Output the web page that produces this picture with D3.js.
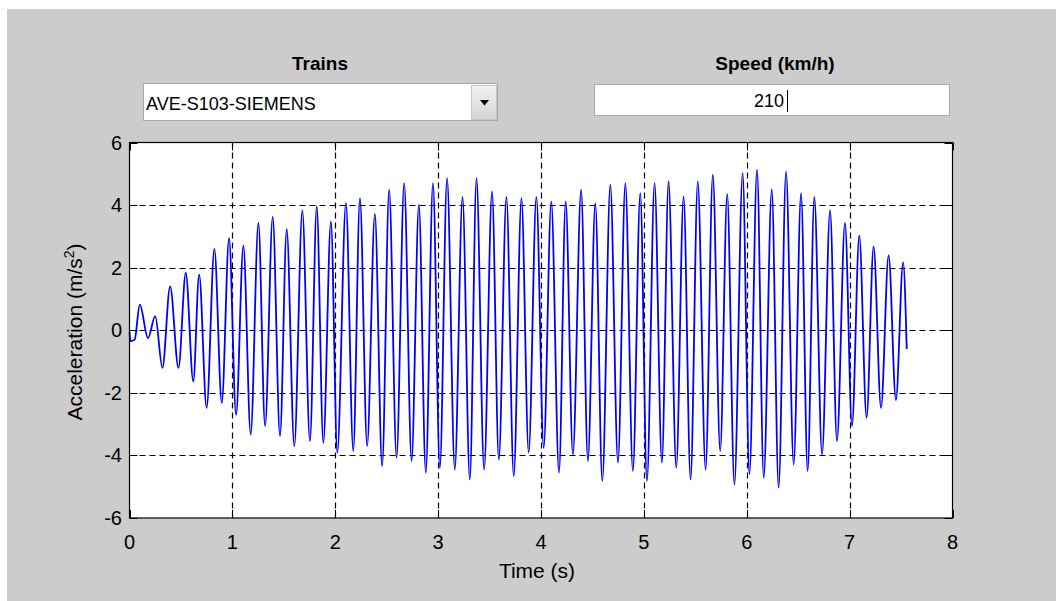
<!DOCTYPE html>
<html>
<head>
<meta charset="utf-8">
<script src="https://cdn.jsdelivr.net/npm/d3@7"></script>
<style>
  html, body { margin: 0; padding: 0; background: #ffffff; }
  svg { display: block; }
  text { font-family: "Liberation Sans", Arial, sans-serif; }
</style>
</head>
<body>
<svg id="chart" width="1056" height="601"></svg>
<script>
// ---- data (local extrema of the acceleration trace) ----
const timeS = [0, 0.01, 0.05, 0.10, 0.18, 0.25, 0.32, 0.395, 0.476, 0.547, 0.62, 0.677, 0.75, 0.825, 0.897, 0.968,
  1.036, 1.107, 1.178, 1.253, 1.318, 1.392, 1.463, 1.528, 1.602, 1.68, 1.754, 1.82, 1.884, 1.958,
  2.02, 2.104, 2.175, 2.24, 2.31, 2.385, 2.456, 2.524, 2.596, 2.67, 2.742, 2.813, 2.88, 2.95,
  3.017, 3.087, 3.162, 3.237, 3.308, 3.373, 3.447, 3.524, 3.59, 3.664, 3.735, 3.81, 3.88, 3.955,
  4.026, 4.1, 4.175, 4.24, 4.31, 4.39, 4.456, 4.528, 4.596, 4.674, 4.748, 4.82, 4.893, 4.965,
  5.03, 5.104, 5.175, 5.24, 5.315, 5.386, 5.454, 5.524, 5.6, 5.67, 5.742, 5.81, 5.88, 5.96,
  6.026, 6.1, 6.165, 6.243, 6.31, 6.382, 6.456, 6.528, 6.592, 6.657, 6.732, 6.81, 6.877, 6.955,
  7.023, 7.094, 7.165, 7.233, 7.305, 7.379, 7.45, 7.52, 7.555];
const accel = [-0.05, -0.35, -0.3, 0.82, -0.25, 0.45, -1.2, 1.4, -1.2, 1.83, -1.63, 1.78, -2.48, 2.6, -2.32, 2.94,
  -2.7, 2.7, -3.33, 3.43, -3.06, 3.62, -3.38, 3.23, -3.7, 3.83, -3.54, 3.96, -3.6, 3.48,
  -3.91, 4.06, -3.86, 4.22, -3.7, 3.72, -4.34, 4.49, -4.07, 4.7, -4.18, 4.01, -4.55, 4.7,
  -4.39, 4.86, -4.45, 4.26, -4.77, 4.86, -4.45, 4.44, -4.13, 4.26, -4.66, 4.22, -3.91, 4.26,
  -3.76, 4.12, -4.55, 4.12, -3.97, 4.49, -4.18, 4.06, -4.82, 4.65, -4.23, 4.7, -4.5, 4.38,
  -4.82, 4.7, -4.23, 4.76, -4.39, 4.28, -4.77, 4.76, -4.45, 4.97, -3.86, 4.36, -4.93, 5.02,
  -4.6, 5.13, -4.71, 4.51, -5.03, 5.07, -4.29, 4.38, -4.5, 4.26, -3.97, 3.83, -3.54, 3.43,
  -3.06, 3.02, -2.8, 2.68, -2.48, 2.39, -2.23, 2.17, -0.6];
const xTicks = [0, 1, 2, 3, 4, 5, 6, 7, 8];
const yTicks = [-6, -4, -2, 0, 2, 4, 6];
const trainName = "AVE-S103-SIEMENS";
const speedValue = "210";

// ---- layout ----
const svg = d3.select("#chart");
svg.append("rect").attr("x", 7).attr("y", 9).attr("width", 1049).attr("height", 592).attr("fill", "#cccccc");

const x = d3.scaleLinear().domain([0, 8]).range([129.5, 952.5]);
const y = d3.scaleLinear().domain([-6, 6]).range([518, 142.5]);

// ---- controls ----
svg.append("text").attr("x", 320).attr("y", 70).attr("text-anchor", "middle")
  .attr("font-size", 19).attr("font-weight", "bold").attr("fill", "#000").text("Trains");
svg.append("text").attr("x", 775).attr("y", 70).attr("text-anchor", "middle")
  .attr("font-size", 19).attr("font-weight", "bold").attr("fill", "#000").text("Speed (km/h)");

const defs = svg.append("defs");
const grad = defs.append("linearGradient").attr("id", "btn").attr("x1", 0).attr("y1", 0).attr("x2", 0).attr("y2", 1);
grad.append("stop").attr("offset", "0%").attr("stop-color", "#f2f2f2");
grad.append("stop").attr("offset", "100%").attr("stop-color", "#d4d4d4");

svg.append("rect").attr("x", 143.5).attr("y", 83.5).attr("width", 354).attr("height", 37)
  .attr("fill", "#ffffff").attr("stroke", "#a8a8a8");
svg.append("rect").attr("x", 471.5).attr("y", 85.5).attr("width", 25).attr("height", 34)
  .attr("fill", "url(#btn)").attr("stroke", "#c8c8c8");
svg.append("path").attr("d", "M480,100 L489,100 L484.5,105.5 Z").attr("fill", "#000");
svg.append("text").attr("x", 146).attr("y", 110).attr("font-size", 18).attr("fill", "#000").text(trainName);

svg.append("rect").attr("x", 594.5).attr("y", 84.5).attr("width", 355).attr("height", 31)
  .attr("fill", "#ffffff").attr("stroke", "#a8a8a8");
svg.append("text").attr("x", 769).attr("y", 107).attr("text-anchor", "middle").attr("font-size", 18).attr("fill", "#000").text(speedValue);
svg.append("line").attr("x1", 787.5).attr("x2", 787.5).attr("y1", 90).attr("y2", 112).attr("stroke", "#000").attr("stroke-width", 1);

// ---- plot area ----
svg.append("rect").attr("x", x(0)).attr("y", y(6)).attr("width", x(8) - x(0)).attr("height", y(-6) - y(6)).attr("fill", "#ffffff");

const grid = svg.append("g");
grid.selectAll(".gx").data(xTicks.slice(1, -1)).join("line")
  .attr("x1", d => Math.round(x(d)) + 0.5).attr("x2", d => Math.round(x(d)) + 0.5)
  .attr("y1", y(6)).attr("y2", y(-6))
  .attr("stroke", "#000").attr("stroke-width", 1.2).attr("stroke-dasharray", "6,4");
grid.selectAll(".gy").data(yTicks.slice(1, -1)).join("line")
  .attr("y1", d => Math.round(y(d)) + 0.5).attr("y2", d => Math.round(y(d)) + 0.5)
  .attr("x1", x(0)).attr("x2", x(8))
  .attr("stroke", "#000").attr("stroke-width", 1.2).attr("stroke-dasharray", "6,4");

const pts = timeS.map((t, i) => [t, accel[i]]);
svg.append("path").datum(pts)
  .attr("d", d3.line().curve(d3.curveMonotoneX).x(d => x(d[0])).y(d => y(d[1])))
  .attr("fill", "none").attr("stroke", "#0000ff").attr("stroke-width", 1.8);

// ticks (inward, on all four sides)
const tl = 8;
const tk = svg.append("g").attr("stroke", "#000").attr("stroke-width", 1);
xTicks.forEach(d => {
  const px = Math.round(x(d)) + 0.5;
  tk.append("line").attr("x1", px).attr("x2", px).attr("y1", y(-6)).attr("y2", y(-6) - tl);
  tk.append("line").attr("x1", px).attr("x2", px).attr("y1", y(6)).attr("y2", y(6) + tl);
});
yTicks.forEach(d => {
  const py = Math.round(y(d)) + 0.5;
  tk.append("line").attr("y1", py).attr("y2", py).attr("x1", x(0)).attr("x2", x(0) + tl);
  tk.append("line").attr("y1", py).attr("y2", py).attr("x1", x(8)).attr("x2", x(8) - tl);
});

svg.append("rect").attr("x", x(0)).attr("y", y(6)).attr("width", x(8) - x(0)).attr("height", y(-6) - y(6))
  .attr("fill", "none").attr("stroke", "#000").attr("stroke-width", 1.2);

// tick labels
svg.append("g").selectAll("text").data(xTicks).join("text")
  .attr("x", d => x(d)).attr("y", 549).attr("text-anchor", "middle").attr("font-size", 20).attr("fill", "#000")
  .text(d => d);
svg.append("g").selectAll("text").data(yTicks).join("text")
  .attr("x", 122).attr("y", d => y(d) + 7).attr("text-anchor", "end").attr("font-size", 20).attr("fill", "#000")
  .text(d => d);

// axis labels
svg.append("text").attr("x", 537).attr("y", 578).attr("text-anchor", "middle").attr("font-size", 21).attr("fill", "#000").text("Time (s)");
const yl = svg.append("text").attr("transform", "translate(82,332) rotate(-90)").attr("text-anchor", "middle")
  .attr("font-size", 21).attr("fill", "#000");
yl.append("tspan").text("Acceleration (m/s");
yl.append("tspan").attr("font-size", 14).attr("dy", -8).text("2");
yl.append("tspan").attr("dy", 8).text(")");
</script>
</body>
</html>
